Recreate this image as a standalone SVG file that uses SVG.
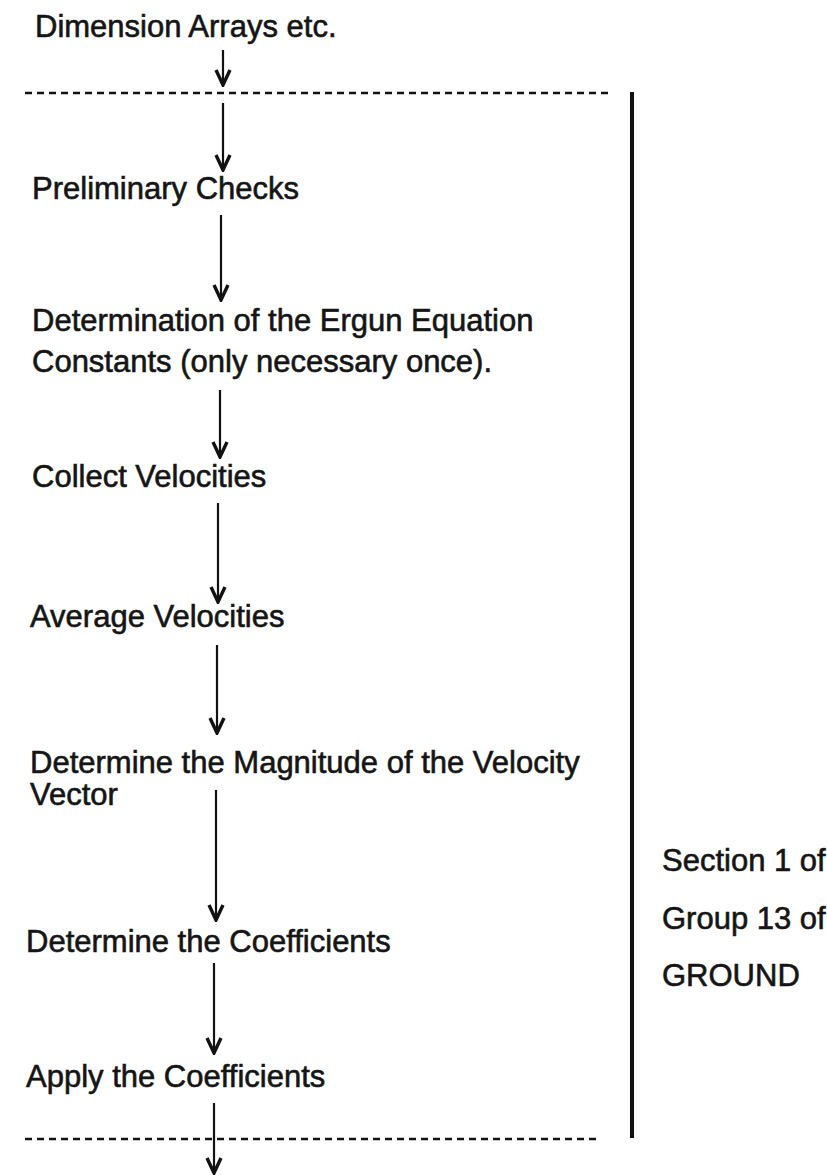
<svg xmlns="http://www.w3.org/2000/svg" width="827" height="1175" viewBox="0 0 827 1175">
<style>
.t{font-family:"Liberation Sans",Arial,sans-serif;font-size:31px;fill:#151515;stroke:#151515;stroke-width:0.6}
.a{stroke:#111;stroke-width:2.2;fill:none}
.d{stroke:#111;stroke-width:2.5;stroke-dasharray:7 5;fill:none}
</style>
<defs>
<marker id="ah" markerUnits="userSpaceOnUse" markerWidth="20" markerHeight="20" refX="18" refY="10" orient="auto" viewBox="0 0 20 20">
<path d="M3,3 L18,10 L3,17" fill="none" stroke="#111" stroke-width="3.4" stroke-linejoin="miter"/>
</marker>
</defs>
<rect width="827" height="1175" fill="#fff"/>
<g id="connectors">
<line class="a" x1="223" y1="50" x2="223" y2="85" marker-end="url(#ah)"/>
<line class="a" x1="223" y1="103" x2="223" y2="170" marker-end="url(#ah)"/>
<line class="a" x1="221" y1="215" x2="221" y2="300" marker-end="url(#ah)"/>
<line class="a" x1="220" y1="390" x2="220" y2="457" marker-end="url(#ah)"/>
<line class="a" x1="218" y1="503" x2="218" y2="602" marker-end="url(#ah)"/>
<line class="a" x1="217" y1="645" x2="217" y2="733" marker-end="url(#ah)"/>
<line class="a" x1="216" y1="790" x2="216" y2="920" marker-end="url(#ah)"/>
<line class="a" x1="214" y1="963" x2="214" y2="1053" marker-end="url(#ah)"/>
<line class="a" x1="214" y1="1103" x2="214" y2="1173" marker-end="url(#ah)"/>
</g>
<g id="boundaries">
<line class="d" x1="25" y1="93" x2="610" y2="93"/>
<line class="d" x1="25" y1="1139" x2="600" y2="1139"/>
<line x1="632" y1="92" x2="632" y2="1138" stroke="#111" stroke-width="4"/>
</g>
<g id="n0"><text class="t" x="35" y="37">Dimension Arrays etc.</text></g>
<g id="n1"><text class="t" x="32" y="199">Preliminary Checks</text></g>
<g id="n2"><text class="t" x="32" y="331">Determination of the Ergun Equation</text><text class="t" x="32" y="372">Constants (only necessary once).</text></g>
<g id="n3"><text class="t" x="32" y="487">Collect Velocities</text></g>
<g id="n4"><text class="t" x="30" y="627">Average Velocities</text></g>
<g id="n5"><text class="t" x="30" y="773">Determine the Magnitude of the Velocity</text><text class="t" x="30" y="805">Vector</text></g>
<g id="n6"><text class="t" x="26" y="952">Determine the Coefficients</text></g>
<g id="n7"><text class="t" x="26" y="1087">Apply the Coefficients</text></g>
<g id="label"><text class="t" x="662" y="871">Section 1 of</text><text class="t" x="662" y="929">Group 13 of</text><text class="t" x="662" y="986">GROUND</text></g>
</svg>
